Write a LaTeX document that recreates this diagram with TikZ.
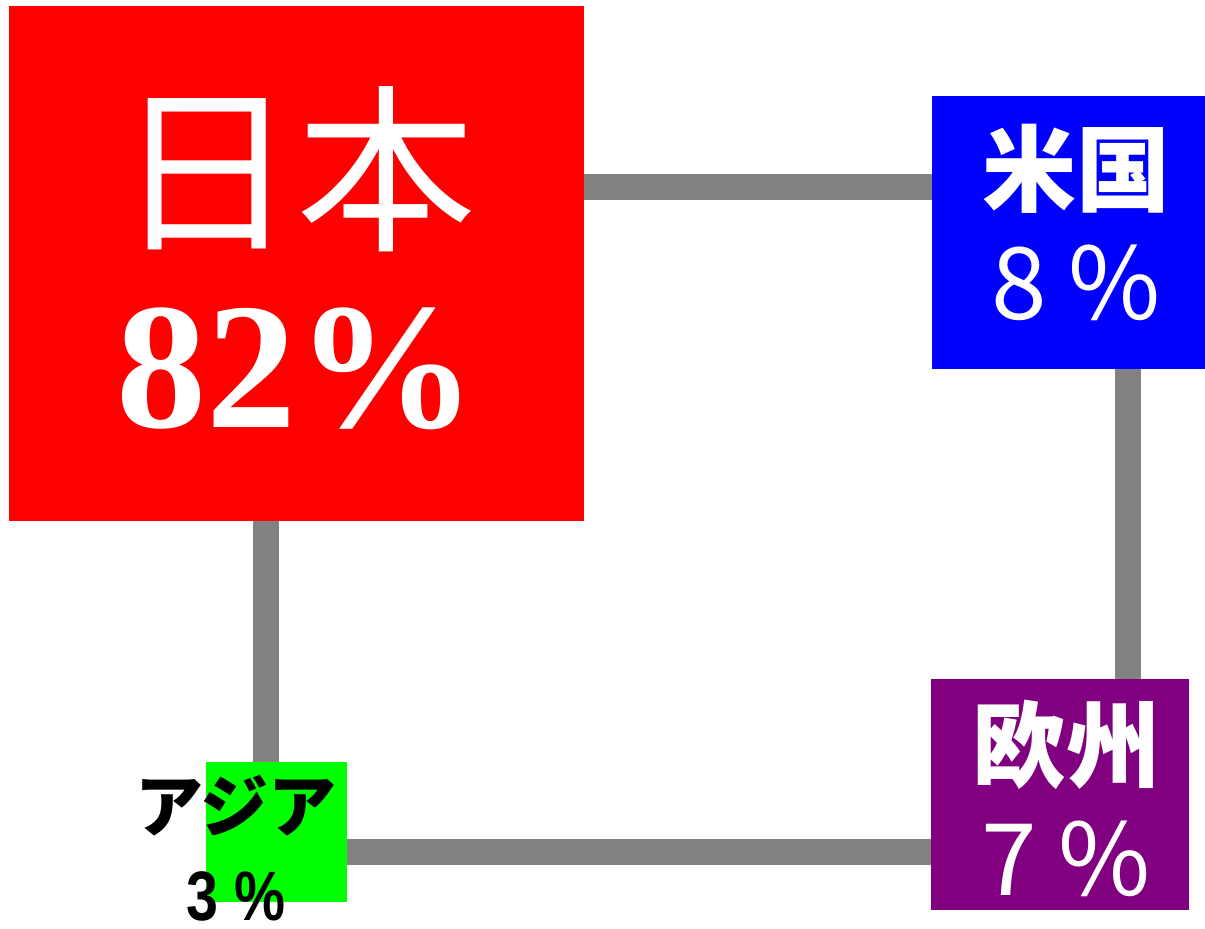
\documentclass[tikz,border=0pt]{standalone}
\usepackage{fontspec}
\usepackage{tikz}
\usetikzlibrary{positioning}
\newfontfamily\jpfont{Noto Sans CJK JP}
\newfontfamily\numfont{Liberation Serif}[BoldFont={Liberation Serif Bold}]
\newfontfamily\narrowfont{Liberation Sans Bold}[FakeStretch=0.82]
\definecolor{linkgray}{HTML}{828282}
\definecolor{euviolet}{HTML}{800080}
\tikzset{
  region/.style={inner sep=0pt, outer sep=0pt},
  share/.style={inner sep=0pt, align=center, text=white},
  link/.style={draw=linkgray, line width=13pt},
}

\begin{document}
\begin{tikzpicture}[x=0.5pt, y=-0.5pt]
			\useasboundingbox (0,0) rectangle (1205,929);
			% Draw Regions
			\node[region, fill=red, minimum width=287.5pt, minimum height=257.5pt] (japan) at (296.5,263.5) {};
			\node[region, fill=blue, minimum width=136.5pt, minimum height=136.5pt] (usa) at (1068.5,232.5) {};
			\node[region, fill=euviolet, minimum width=129pt, minimum height=115.5pt] (europe) at (1060,794.5) {};
			\node[region, fill=green, minimum width=70.5pt, minimum height=70pt] (asia) at (276.5,832) {};
			
			% Draw Shares
			\node[share, font=\fontsize{90}{95}\selectfont] (japanlabel) at (296.5,258.5)
			      {{\jpfont 日本}\\{\numfont\bfseries 82\%}};
			\node[share, font=\jpfont\fontsize{50}{57.5}\selectfont] (usalabel) at (1076,222.5)
			      {{\bfseries\fontsize{47}{57.5}\selectfont 米国}\\8 \%};
			\node[share, font=\jpfont\fontsize{50}{57.5}\selectfont] (europelabel) at (1066,798.5)
			      {{\bfseries\fontsize{47}{57.5}\selectfont 欧州}\\7 \%};
			\node[share, text=black, font=\fontsize{35}{44.5}\selectfont] (asialabel) at (236,848)
			      {{\jpfont\bfseries\fontsize{34}{44.5}\selectfont アジア}\\{\narrowfont 3 \%}};
			
			% Draw Links
			\coordinate (topline) at (0,187);
			\coordinate (bottomline) at (0,852);
			\coordinate (leftline) at (266,0);
			\coordinate (rightline) at (1128,0);
			\draw[link] (japan.east |- topline) -- (usa.west |- topline);
			\draw[link] (usa.south -| rightline) -- (europe.north -| rightline);
			\draw[link] (asia.east |- bottomline) -- (europe.west |- bottomline);
			\draw[link] (japan.south -| leftline) -- (asia.north -| leftline);
		\end{tikzpicture}
\end{document}
